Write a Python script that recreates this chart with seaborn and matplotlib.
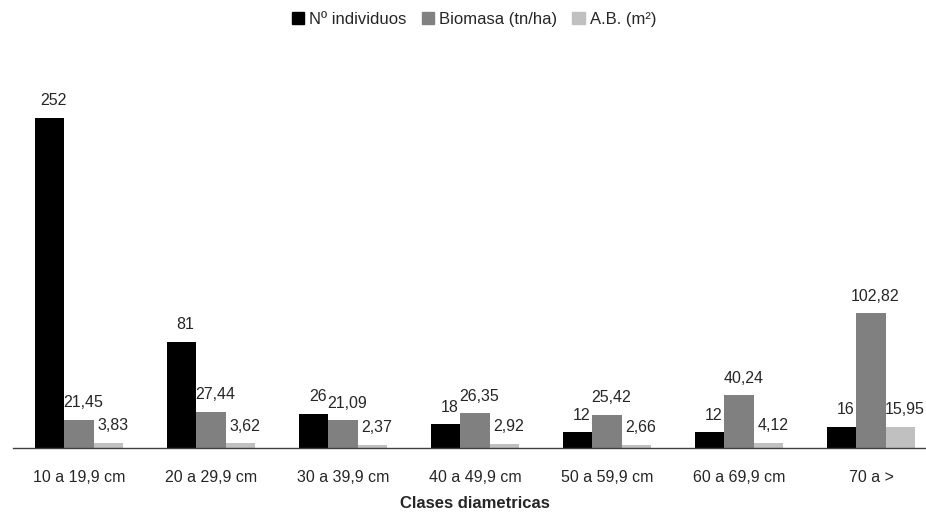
import numpy as np
import pandas as pd
import seaborn as sns
import matplotlib.pyplot as plt
from matplotlib.ticker import FixedLocator

clases = ['10 a 19,9 cm', '20 a 29,9 cm', '30 a 39,9 cm', '40 a 49,9 cm',
          '50 a 59,9 cm', '60 a 69,9 cm', '70 a >']
individuos = [252, 81, 26, 18, 12, 12, 16]
biomasa = [21.45, 27.44, 21.09, 26.35, 25.42, 40.24, 102.82]
area_basal = [3.83, 3.62, 2.37, 2.92, 2.66, 4.12, 15.95]
series = ['Nº individuos', 'Biomasa (tn/ha)', 'A.B. (m²)']
colores = ['#000000', '#808080', '#c0c0c0']

df = pd.DataFrame({
    'clase': clases * 3,
    'serie': np.repeat(series, len(clases)),
    'valor': individuos + biomasa + area_basal,
})

sns.set_style('white')
plt.rcParams['font.family'] = ['Liberation Sans', 'DejaVu Sans']

fig = plt.figure(figsize=(9.26, 5.16), dpi=100)
ax = fig.add_axes([13 / 926, 68 / 516, 924 / 926, 393 / 516])

sns.barplot(data=df, x='clase', y='valor', hue='serie', order=clases,
            hue_order=series, palette=colores, width=0.67, saturation=1,
            linewidth=0, ax=ax, legend=False)

# etiquetas de valor (coma decimal)
for cont, s in zip(ax.containers, series):
    for bar in cont:
        v = bar.get_height()
        txt = str(int(v)) if s == series[0] else f'{v:.2f}'.replace('.', ',')
        ax.annotate(txt, (bar.get_x() + bar.get_width() / 2, v),
                    xytext=(3, 7), textcoords='offset points',
                    ha='center', va='bottom', fontsize=11.5)

ax.set_xlim(-0.5, len(clases) - 0.5)
ax.set_ylim(0, 300)
ax.set_yticks([])
ax.set_ylabel('')
ax.set_xlabel('Clases diametricas', fontsize=12, fontweight='bold', labelpad=8)
ax.tick_params(axis='x', which='major', length=0, pad=16, labelsize=11.5)
ax.xaxis.set_minor_locator(FixedLocator(np.arange(-0.5, len(clases), 1)))
ax.tick_params(axis='x', which='minor', length=6, width=1, color='#404040', direction='out')
for sp in ['top', 'right', 'left']:
    ax.spines[sp].set_visible(False)
ax.spines['bottom'].set_color('#404040')
ax.spines['bottom'].set_linewidth(1)

handles = [plt.Rectangle((0, 0), 1, 1, color=c) for c in colores]
fig.legend(handles, series, loc='center', bbox_to_anchor=(0.512, 0.962),
           ncol=3, frameon=False, fontsize=12, handlelength=0.75,
           handleheight=0.75, handletextpad=0.3, columnspacing=0.9)

fig.savefig('out.png', dpi=100)
